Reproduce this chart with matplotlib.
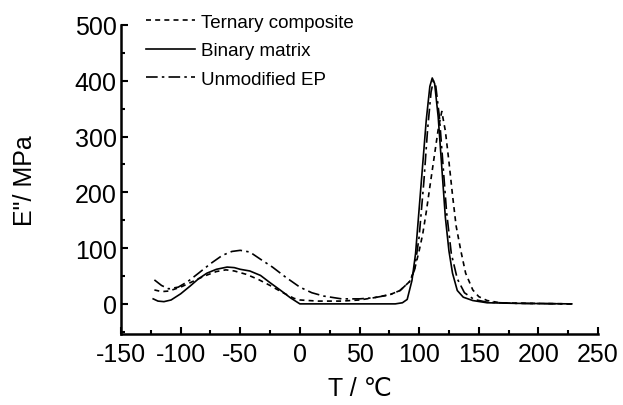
import matplotlib
matplotlib.use("Agg")
import matplotlib.pyplot as plt
from matplotlib.ticker import MultipleLocator

plt.rcParams['font.family'] = ['Liberation Sans', 'DejaVu Sans']
plt.rcParams['axes.unicode_minus'] = False

# Binary matrix (solid)
t_bin = [-123, -119, -114, -108, -100, -92, -85, -78, -70, -61, -55, -50, -42, -33, -25, -16, -8, 0,
         40, 80, 86, 90, 94, 97, 100, 103, 106, 109, 111, 113, 116, 119, 122, 125, 128, 132, 137, 145,
         157, 180, 228]
e_bin = [9, 5, 4, 7, 18, 32, 45, 55, 62, 66, 65, 62, 59, 51, 38, 24, 11, 0,
         0, 0, 2, 8, 42, 90, 170, 250, 330, 390, 405, 395, 335, 245, 155, 95, 55, 24, 12, 6,
         2, 1, 0]

# Unmodified EP (dash-dot)
t_ep = [-122, -116, -110, -102, -94, -85, -75, -65, -57, -50, -42, -33, -23, -12, 0, 10, 20, 35, 50,
        62, 75, 84, 92, 96, 100, 104, 107, 110, 112, 114, 117, 120, 123, 127, 132, 138, 146, 157, 180, 228]
e_ep = [43, 33, 27, 30, 40, 55, 72, 87, 94, 96, 93, 80, 66, 48, 30, 20, 14, 9, 9,
        11, 16, 24, 40, 60, 120, 220, 310, 380, 400, 390, 335, 250, 165, 90, 45, 20, 8, 3, 1, 0]

# Ternary composite (dashed)
t_ter = [-122, -116, -110, -100, -90, -80, -70, -62, -55, -45, -35, -25, -15, -5, 0, 15, 35, 50, 62,
         76, 84, 92, 96, 100, 103, 106, 109, 112, 116, 119, 122, 125, 128, 131, 135, 139, 145, 150,
         157, 168, 190, 228]
e_ter = [25, 22, 23, 30, 40, 50, 58, 61, 59, 53, 44, 33, 21, 10, 7, 5, 5, 7, 11,
         17, 24, 40, 60, 95, 125, 165, 210, 254, 313, 345, 310, 255, 195, 140, 95, 55, 25, 13,
         6, 2, 1, 0]

fig = plt.figure(figsize=(6.23, 4.06), dpi=100)
ax = fig.add_axes([121 / 623, 1 - 335 / 406, (598 - 121) / 623, (335 - 26) / 406])

ax.plot(t_ter, e_ter, color='black', lw=1.2, ls=(0, (3, 2.5)), label='Ternary composite')
ax.plot(t_bin, e_bin, color='black', lw=1.2, ls='-', label='Binary matrix')
ax.plot(t_ep, e_ep, color='black', lw=1.2, ls=(0, (7, 2.5, 1.5, 2.5)), label='Unmodified EP')

ax.set_xlim(-150, 250)
ax.set_ylim(-54, 500)
ax.xaxis.set_major_locator(MultipleLocator(50))
ax.xaxis.set_minor_locator(MultipleLocator(25))
ax.yaxis.set_major_locator(MultipleLocator(100))
ax.yaxis.set_minor_locator(MultipleLocator(50))
ax.tick_params(which='both', direction='in', labelsize=18, width=1.5, top=False, right=False)
ax.tick_params(which='major', length=5)
ax.tick_params(which='minor', length=3)
ax.tick_params(axis='x', pad=6)
ax.tick_params(axis='y', pad=3)
for s in ['top', 'right']:
    ax.spines[s].set_visible(False)
for s in ['left', 'bottom']:
    ax.spines[s].set_linewidth(1.8)

ax.set_xlabel('T / ℃', fontsize=18, labelpad=7)
ax.set_ylabel('E"/ MPa', fontsize=18, labelpad=27)

fig.legend(loc='upper left', bbox_to_anchor=(137 / 623, 1 - 5 / 406), frameon=False,
           fontsize=13.5, handlelength=2.6, handletextpad=0.3, labelspacing=0.62, borderpad=0)

fig.savefig('out.png', dpi=100)
